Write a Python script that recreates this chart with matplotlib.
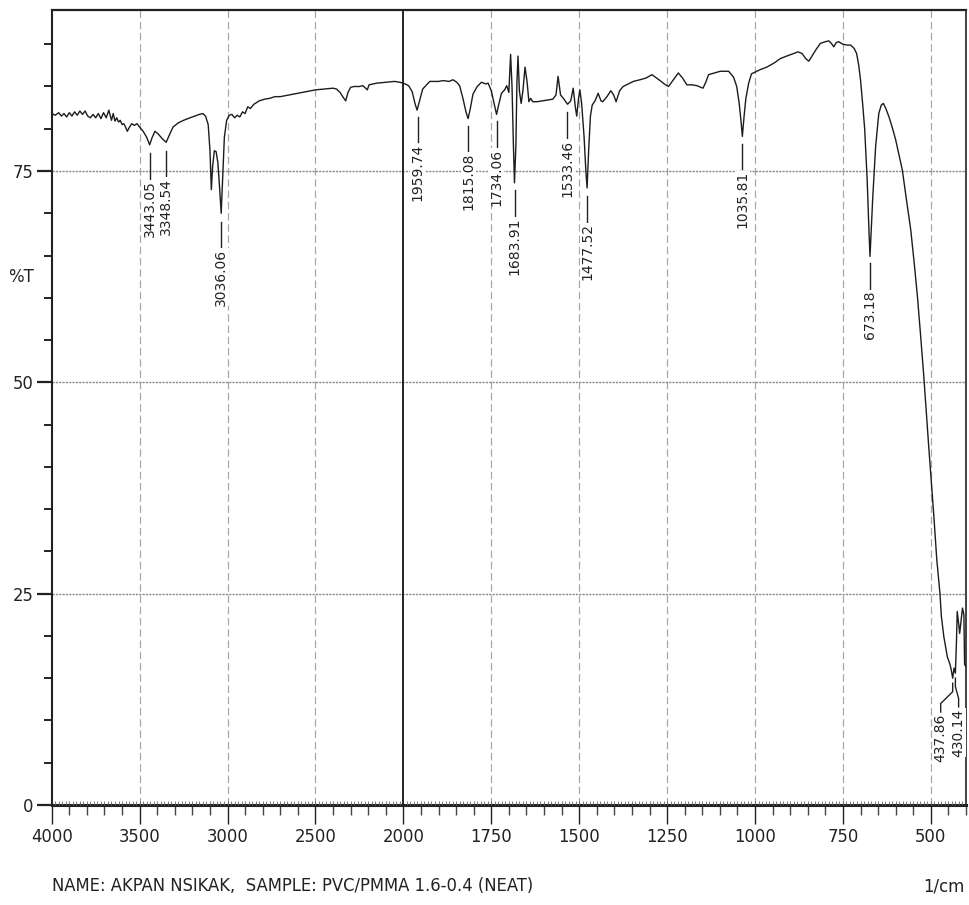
import os

import numpy as np
import matplotlib
matplotlib.use("Agg")
import matplotlib.pyplot as plt
from matplotlib import font_manager
from matplotlib.font_manager import FontProperties
from matplotlib.textpath import TextPath
from matplotlib.ticker import FixedLocator, NullFormatter


# SPECTRUM DATA
wn_hi = [4000, 3980, 3960, 3945, 3930, 3915, 3900, 3885, 3870, 3855, 3840, 3825,
         3810, 3795, 3780, 3765, 3750, 3735, 3720, 3705, 3690, 3675, 3660, 3650,
         3640, 3630, 3620, 3610, 3600, 3590, 3580, 3570, 3560, 3545, 3530, 3515,
         3500, 3480, 3460, 3443, 3430, 3413, 3395, 3370, 3349, 3330, 3310, 3280,
         3250, 3200, 3160, 3140, 3125, 3110, 3100, 3092, 3085, 3075, 3065, 3055,
         3045, 3036, 3028, 3018, 3005, 2990, 2975, 2960, 2945, 2930, 2915, 2900,
         2885, 2870, 2850, 2820, 2790, 2760, 2730, 2700, 2650, 2600, 2550, 2500,
         2450, 2400, 2380, 2360, 2345, 2328, 2315, 2300, 2280, 2250, 2230, 2215,
         2205, 2195, 2150, 2100, 2050, 2020]
t_hi = [81.8, 81.6, 81.9, 81.5, 81.8, 81.4, 81.9, 81.5, 82.0, 81.6, 82.1, 81.7,
        82.1, 81.5, 81.3, 81.7, 81.3, 81.8, 81.2, 81.9, 81.3, 82.2, 81.0, 81.8,
        80.9, 81.3, 80.8, 81.0, 80.5, 80.6, 80.2, 79.7, 80.1, 80.6, 80.4, 80.6,
        80.2, 79.7, 79.0, 78.1, 78.9, 79.7, 79.4, 78.8, 78.4, 79.3, 80.2, 80.7,
        81.0, 81.4, 81.7, 81.8, 81.5, 80.5, 77.5, 72.8, 75.5, 77.4, 77.3, 76.0,
        73.0, 70.0, 74.0, 79.0, 81.0, 81.6, 81.7, 81.3, 81.6, 81.4, 82.0, 81.8,
        82.6, 82.4, 82.9, 83.3, 83.5, 83.6, 83.8, 83.8, 84.0, 84.2, 84.4, 84.6,
        84.7, 84.8, 84.7, 84.3, 83.8, 83.3, 84.3, 84.9, 85.0, 85.0, 85.1, 84.8,
        84.6, 85.2, 85.4, 85.5, 85.6, 85.5]

wn_lo = [2000, 1985, 1975, 1967, 1961, 1954, 1945, 1925, 1900, 1887, 1870, 1859,
         1848, 1840, 1830, 1822, 1816, 1810, 1802, 1790, 1778, 1765, 1759, 1750,
         1742, 1735, 1728, 1721, 1712, 1706, 1700, 1695, 1691, 1687, 1684, 1680,
         1677, 1674, 1670, 1665, 1660, 1654, 1648, 1643, 1638, 1632, 1620, 1605,
         1590, 1575, 1566, 1560, 1553, 1545, 1533, 1524, 1517, 1511, 1507, 1502,
         1498, 1493, 1486, 1481, 1477.5, 1473, 1468, 1463, 1455, 1446, 1438, 1433,
         1421, 1410, 1402, 1395, 1385, 1375, 1346, 1327, 1310, 1293, 1280, 1270,
         1258, 1246, 1232, 1218, 1206, 1194, 1180, 1165, 1148, 1140, 1132, 1115,
         1099, 1075, 1061, 1052, 1045, 1040, 1036, 1031, 1026, 1018, 1010, 1000,
         985, 966, 945, 928, 910, 890, 878, 866, 856, 847, 838, 826,
         814, 800, 790, 783, 776, 769, 762, 750, 738, 728, 718, 711,
         705, 700, 694, 688, 681, 676, 673, 669, 665, 657, 648, 641,
         635, 628, 619, 610, 600, 590, 581, 570, 557, 547, 538, 529,
         520, 513, 506, 499, 492, 483, 474, 470, 463, 453, 446, 442,
         437.86, 434, 430.14, 427, 425, 421, 418, 414, 410, 406, 404, 400]
t_lo = [85.4, 85.1, 84.4, 83.0, 82.2, 83.3, 84.7, 85.6, 85.6, 85.7, 85.6, 85.8,
        85.5, 85.1, 83.5, 82.0, 81.2, 82.3, 84.1, 85.0, 85.5, 85.3, 85.4, 84.5,
        83.0, 81.7, 83.0, 84.2, 84.6, 85.1, 84.3, 88.8, 85.0, 78.0, 73.6, 78.0,
        85.5, 88.6, 84.5, 83.0, 84.5, 87.3, 85.5, 83.2, 83.6, 83.2, 83.2, 83.3,
        83.4, 83.5, 84.0, 86.2, 84.0, 83.6, 82.9, 83.3, 84.8, 82.6, 81.5, 83.5,
        84.6, 83.0, 79.0, 75.0, 73.0, 77.5, 81.5, 82.8, 83.3, 84.2, 83.3, 83.2,
        83.8, 84.5, 84.0, 83.2, 84.5, 85.0, 85.6, 85.8, 86.0, 86.4, 86.0, 85.7,
        85.3, 85.0, 85.8, 86.6, 86.0, 85.2, 85.2, 85.1, 84.8, 85.5, 86.4, 86.6,
        86.8, 86.8, 86.1, 85.0, 83.0, 81.0, 79.1, 81.5, 83.6, 85.4, 86.5, 86.7,
        87.0, 87.3, 87.8, 88.3, 88.6, 88.9, 89.1, 88.9, 88.3, 88.0, 88.6, 89.4,
        90.1, 90.3, 90.4, 90.1, 89.7, 90.2, 90.3, 90.0, 89.9, 89.9, 89.5, 88.9,
        87.5, 85.8, 83.0, 79.9, 73.9, 68.0, 64.9, 68.5, 72.0, 77.9, 81.8, 82.8,
        83.0, 82.4, 81.4, 80.2, 78.7, 76.8, 75.1, 71.8, 68.0, 64.0, 60.1, 55.5,
        50.7, 46.5, 42.4, 38.5, 34.5, 29.0, 25.0, 22.3, 19.9, 17.5, 16.7, 16.0,
        15.0, 16.2, 15.6, 19.5, 22.9, 21.5, 20.3, 21.8, 23.3, 22.5, 16.6, 16.4]

peak_wn = [3443.05, 3348.54, 3036.06, 1959.74, 1815.08, 1734.06, 1683.91,
           1533.46, 1477.52, 1035.81, 673.18, 437.86, 430.14]
# where the label text sits if it is pushed aside from its peak
label_at = [None, None, None, None, None, None, None,
            None, None, None, None, 472, 421]

major_ticks = [4000, 3500, 3000, 2500, 2000, 1750, 1500, 1250, 1000, 750, 500]
y_ticks = [0, 25, 50, 75]

name_text = "NAME: AKPAN NSIKAK,  SAMPLE: PVC/PMMA 1.6-0.4 (NEAT)"


W, H = 970, 905


def fwd(w):
    w = np.asarray(w, dtype=float)
    return np.where(w >= 2000, (w - 2000) / 2000.0, (w - 2000) / 1000.0)


def inv(p):
    p = np.asarray(p, dtype=float)
    return np.where(p >= 0, 2000 + p * 2000.0, 2000 + p * 1000.0)


# FONTS
narrow_fp = FontProperties(family="Liberation Sans")
for f in font_manager.fontManager.ttflist:
    base = os.path.basename(f.fname)
    if base in ("LiberationSansNarrow-Regular.ttf", "DejaVuSansCondensed.ttf"):
        narrow_fp = FontProperties(fname=f.fname)
        if "Liberation" in base:
            break
label_fp = FontProperties(family="DejaVu Sans")


def fit(s, fp, px):
    # font size (pt) so that string s is px pixels long
    w10 = TextPath((0, 0), s, size=10, prop=fp).get_extents().width
    return 10 * px * 72 / (100 * w10)


tick_size = fit("4000", narrow_fp, 40)
label_size = 10


fig = plt.figure(figsize=(W / 100, H / 100), dpi=100)
ax = fig.add_axes([51.7 / W, 100 / H, (966 - 51.7) / W, 795 / H])

ax.set_xscale("function", functions=(fwd, inv))
ax.set_xlim(4000, 400)
ax.set_ylim(0, 94.05)

# CURVE
wn = np.array(wn_hi + wn_lo, dtype=float)
tr = np.array(t_hi + t_lo, dtype=float)
ax.plot(wn, tr, color="#1c1c1c", lw=1.0, zorder=4)

# GRID
for x in major_ticks[1:]:
    if x == 2000:
        ax.axvline(x, color="black", lw=1.2, zorder=2)
    else:
        ax.axvline(x, color="#a8a8a8", lw=0.9, ls=(0, (6, 3)), zorder=1)
for y in y_ticks[1:]:
    ax.axhline(y, color="#8a8a8a", lw=1.0, ls=(0, (1.6, 0.8)), zorder=1)

# AXES / TICKS
minor_x = [v for v in list(range(3900, 2000, -100)) + list(range(1950, 399, -50))
           if v not in major_ticks]
ax.xaxis.set_major_locator(FixedLocator(major_ticks))
ax.xaxis.set_minor_locator(FixedLocator(minor_x))
ax.set_xticklabels([str(v) for v in major_ticks], fontproperties=narrow_fp,
                   fontsize=tick_size)
ax.xaxis.set_minor_formatter(NullFormatter())
ax.tick_params(axis="x", which="major", direction="out", length=13.5, width=1.0,
               pad=3, colors="#222")
ax.tick_params(axis="x", which="minor", direction="out", length=7, width=1.0,
               colors="#444")

ax.yaxis.set_major_locator(FixedLocator(y_ticks))
ax.yaxis.set_minor_locator(FixedLocator([v for v in range(5, 95, 5) if v % 25]))
ax.set_yticklabels([str(v) for v in y_ticks], fontproperties=narrow_fp,
                   fontsize=tick_size)
ax.tick_params(axis="y", which="major", direction="out", length=11, width=1.6,
               pad=2, colors="#222")
ax.tick_params(axis="y", which="minor", direction="out", length=6, width=1.4,
               colors="#222")

for side, lw in (("left", 1.5), ("bottom", 2.2), ("top", 1.6), ("right", 1.2)):
    ax.spines[side].set_linewidth(lw)
    ax.spines[side].set_color("#222")

# fine ticks along the bottom line
ax2 = ax.twiny()
ax2.set_xscale("function", functions=(fwd, inv))
ax2.set_xlim(4000, 400)
ax2.xaxis.set_ticks_position("bottom")
fine = list(range(3980, 2000, -20)) + list(range(1990, 400, -10))
ax2.xaxis.set_major_locator(FixedLocator(fine))
ax2.xaxis.set_major_formatter(NullFormatter())
ax2.tick_params(axis="x", direction="in", length=3, width=0.6, colors="#666")
for s in ax2.spines.values():
    s.set_visible(False)

# PEAK LABELS
order = np.argsort(wn)
for pk, at in zip(peak_wn, label_at):
    d = np.interp(pk, wn[order], tr[order])
    tx = pk if at is None else at
    if at is None:
        ax.plot([pk, pk], [d - 1.0, d - 4.0], color="#222", lw=1.0, zorder=5)
    else:
        ax.plot([pk, pk, tx, tx], [d - 0.6, d - 1.6, d - 3.0, d - 4.0],
                color="#222", lw=1.0, zorder=5)
    ax.text(tx, d - 4.2, f"{pk:.2f}", rotation=90, ha="center", va="top",
            fontproperties=label_fp, fontsize=label_size, color="#222", zorder=6,
            bbox=dict(fc="white", ec="none", pad=0.3))

# TEXTS
fig.text(8 / W, 1 - 277 / H, "%T", ha="left", va="center",
         fontproperties=narrow_fp, fontsize=fit("%T", narrow_fp, 25), color="#222")
fig.text(52 / W, 1 - 886 / H, name_text, ha="left", va="center",
         fontproperties=narrow_fp, fontsize=fit(name_text, narrow_fp, 478),
         color="#222")
fig.text(965 / W, 1 - 886 / H, "1/cm", ha="right", va="center",
         fontproperties=narrow_fp, fontsize=fit("1/cm", narrow_fp, 38), color="#222")

fig.savefig("out.png", dpi=100)
